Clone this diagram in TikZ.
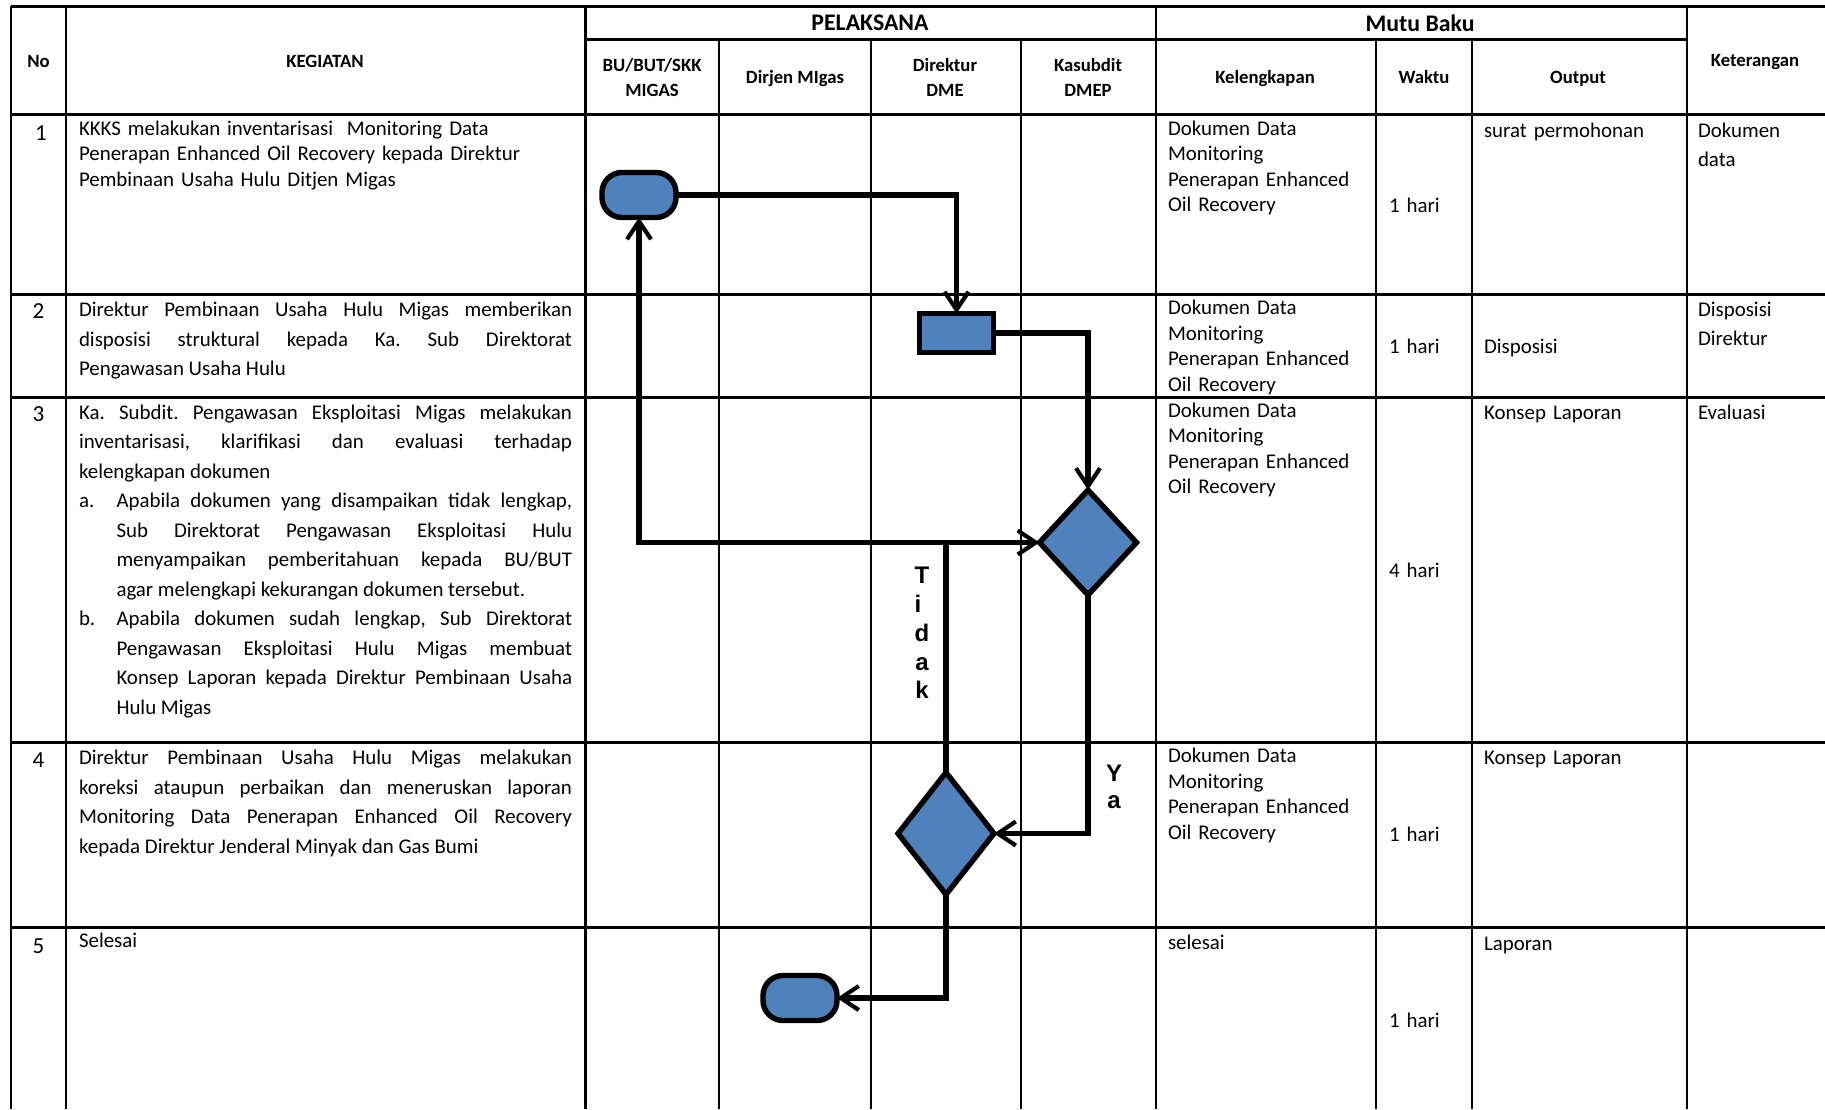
\documentclass[tikz,border=0pt]{standalone}
\usepackage{fontspec}
\setmainfont{Carlito}
\newfontfamily\arialf{Liberation Sans}
\usetikzlibrary{arrows.meta,shapes.geometric}
\definecolor{flowblue}{HTML}{4F81BD}
\frenchspacing
\tikzset{
  gridh/.style={line width=1.5pt,black},
  gridv/.style={line width=1.2pt,black},
  flowline/.style={line width=2.7pt,black,line join=miter},
  flowarrow/.style={flowline,-{Straight Barb[length=9pt,width=12pt,line width=2.1pt]}},
  flowshape/.style={draw=black,line width=2.7pt,fill=flowblue,inner sep=0pt,outer sep=0pt},
  terminal/.style={flowshape,rectangle,rounded corners=10pt,minimum width=37pt,minimum height=22.5pt},
  procbox/.style={flowshape,rectangle,minimum width=37pt,minimum height=19.5pt},
  decision/.style={flowshape,diamond},
  head/.style={font=\fontsize{9.35}{12.2}\selectfont\bfseries,align=center,inner sep=0pt},
  bighead/.style={font=\fontsize{11.9}{14}\selectfont\bfseries,inner sep=0pt},
  numcell/.style={font=\fontsize{11.5}{13}\selectfont,inner sep=0pt},
  just/.style={anchor=north west,yshift=-0.5pt,inner sep=0pt,outer sep=0pt,align=justify,font=\fontsize{10.45}{14.75}\selectfont},
  tight/.style={anchor=north west,yshift=-0.5pt,inner sep=0pt,outer sep=0pt,align=left,text width=110pt,font=\fontsize{10.45}{12.8}\selectfont},
  wide/.style={anchor=north west,yshift=-0.5pt,inner sep=0pt,outer sep=0pt,align=left,text width=100pt,font=\fontsize{10.45}{14.75}\selectfont},
  letter/.style={font=\arialf\bfseries\fontsize{12}{14}\selectfont,inner sep=0pt},
}
\newcommand{\fs}{\rule{0pt}{10pt}}
\begin{document}
\begin{tikzpicture}[x=0.5pt,y=-0.5pt]
\useasboundingbox (0,0) rectangle (1825,1109);
% table
\foreach \yy in {6,114.5,294,397,742.5,927.5} \draw[gridh] (11,\yy) -- (1825,\yy);
\draw[gridh] (585.5,39.5) -- (1687,39.5);
\foreach \xx in {11,66,585.5,1156,1687} \draw[gridv] (\xx,6) -- (\xx,1109);
\foreach \xx in {719,871,1021,1376,1472} \draw[gridv] (\xx,39.5) -- (\xx,1109);
% headers
\node[head] (hno) at (38.5,61.5) {No};
\node[head] (hkeg) at (325,61.5) {KEGIATAN};
\node[bighead] (hpel) at (870,23) {PELAKSANA};
\node[bighead] (hmutu) at (1420,23) {Mutu Baku};
\node[head] (hbu) at (652,77.5) {BU/BUT/SKK\\MIGAS};
\node[head] (hdir) at (795,79) {Dirjen MIgas};
\node[head] (hdme) at (945,77.5) {Direktur\\DME};
\node[head] (hkas) at (1088,77.5) {Kasubdit\\DMEP};
\node[head] (hkel) at (1265,79) {Kelengkapan};
\node[head] (hwak) at (1424,77.5) {Waktu};
\node[head] (hout) at (1578,79) {Output};
\node[head] (hket) at (1755,62) {Keterangan};
% numbers
\node[numcell] (n1) at (41,133) {1};
\node[numcell] (n2) at (38.5,311) {2};
\node[numcell] (n3) at (38.5,414) {3};
\node[numcell] (n4) at (38.5,760) {4};
\node[numcell] (n5) at (38.5,946) {5};
% activity column
\node[tight,text width=246.5pt] (k1) at (79,114) {\fs KKKS melakukan inventarisasi\ \ Monitoring Data\\Penerapan Enhanced Oil Recovery kepada Direktur\\Pembinaan Usaha Hulu Ditjen Migas};
\node[just,text width=246.5pt] (k2) at (79,295.5) {\fs Direktur Pembinaan Usaha Hulu Migas memberikan\linebreak disposisi struktural kepada Ka. Sub Direktorat\linebreak Pengawasan Usaha Hulu};
\node[just,text width=246.5pt] (k3) at (79,398) {\fs Ka. Subdit. Pengawasan Eksploitasi Migas melakukan\linebreak inventarisasi, klarifikasi dan evaluasi terhadap\linebreak kelengkapan dokumen};
\node[tight,text width=20pt] (k3al) at (79,486.5) {\fs a.};
\node[just,text width=227.8pt] (k3a) at (116.5,486.5) {\fs Apabila dokumen yang disampaikan tidak lengkap,\linebreak Sub Direktorat Pengawasan Eksploitasi Hulu\linebreak menyampaikan pemberitahuan kepada BU/BUT\linebreak agar melengkapi kekurangan dokumen tersebut.};
\node[tight,text width=20pt] (k3bl) at (79,604.5) {\fs b.};
\node[just,text width=227.8pt] (k3b) at (116.5,604.5) {\fs Apabila dokumen sudah lengkap, Sub Direktorat\linebreak Pengawasan Eksploitasi Hulu Migas membuat\linebreak Konsep Laporan kepada Direktur Pembinaan Usaha\linebreak Hulu Migas};
\node[just,text width=246.5pt] (k4) at (79,743.5) {\fs Direktur Pembinaan Usaha Hulu Migas melakukan\linebreak koreksi ataupun perbaikan dan meneruskan laporan\linebreak Monitoring Data Penerapan Enhanced Oil Recovery\linebreak kepada Direktur Jenderal Minyak dan Gas Bumi};
\node[tight] (k5) at (79,926.5) {\fs Selesai};
% kelengkapan
\node[tight] (m1) at (1168,114) {\fs Dokumen Data\\Monitoring\\Penerapan Enhanced\\Oil Recovery};
\node[tight] (m2) at (1168,293.5) {\fs Dokumen Data\\Monitoring\\Penerapan Enhanced\\Oil Recovery};
\node[tight] (m3) at (1168,396) {\fs Dokumen Data\\Monitoring\\Penerapan Enhanced\\Oil Recovery};
\node[tight] (m4) at (1168,741.5) {\fs Dokumen Data\\Monitoring\\Penerapan Enhanced\\Oil Recovery};
\node[tight] (m5) at (1168,928.5) {\fs selesai};
% waktu
\node[tight] (w1) at (1389,191) {\fs 1 hari};
\node[tight] (w2) at (1389,332) {\fs 1 hari};
\node[tight] (w3) at (1389,556) {\fs 4 hari};
\node[tight] (w4) at (1389,820) {\fs 1 hari};
\node[tight] (w5) at (1389,1006) {\fs 1 hari};
% output
\node[tight] (o1) at (1484,116) {\fs surat permohonan};
\node[tight] (o2) at (1484,332) {\fs Disposisi};
\node[tight] (o3) at (1484,398) {\fs Konsep Laporan};
\node[tight] (o4) at (1484,743) {\fs Konsep Laporan};
\node[tight] (o5) at (1484,929) {\fs Laporan};
% keterangan
\node[wide,text width=55pt] (c1) at (1698,116) {\fs Dokumen\\data};
\node[wide,text width=55pt] (c2) at (1698,295) {\fs Disposisi\\Direktur};
\node[tight,text width=55pt] (c3) at (1698,398) {\fs Evaluasi};
% flow shapes
\node[terminal] (start) at (639,195) {};
\node[procbox] (disp) at (956.5,333) {};
\node[decision,minimum width=48.5pt,minimum height=52.5pt] (dec1) at (1088,542.5) {};
\node[decision,minimum width=48pt,minimum height=61pt] (dec2) at (946,833.5) {};
\node[terminal] (finish) at (800,998) {};
% junctions
\coordinate (jt) at (dec2.north |- dec1.west);
\coordinate (jl) at (start.south |- dec1.west);
\coordinate (c1a) at (disp.north |- start.east);
\coordinate (c2a) at (dec1.north |- disp.east);
\coordinate (c3a) at (dec1.south |- dec2.east);
\coordinate (c4a) at (dec2.south |- finish.east);
% connectors
\draw[flowarrow] (start.east) -- (c1a) -- (disp.north);
\draw[flowarrow] (disp.east) -- (c2a) -- (dec1.north);
\draw[flowarrow] (dec1.south) -- (c3a) -- (dec2.east);
\draw[flowarrow] (dec2.south) -- (c4a) -- (finish.east);
\draw[flowarrow] (dec2.north) -- (jt) -- (jl) -- (start.south);
\draw[flowarrow] (jt) -- (dec1.west);
% stacked labels
\node[letter] (t1) at (922,575) {T};
\node[letter] (t2) at (918,604) {i};
\node[letter] (t3) at (922,633) {d};
\node[letter] (t4) at (922,664) {a};
\node[letter] (t5) at (922,690) {k};
\node[letter] (y1) at (1114,773) {Y};
\node[letter] (y2) at (1114,802) {a};
\end{tikzpicture}
\end{document}
